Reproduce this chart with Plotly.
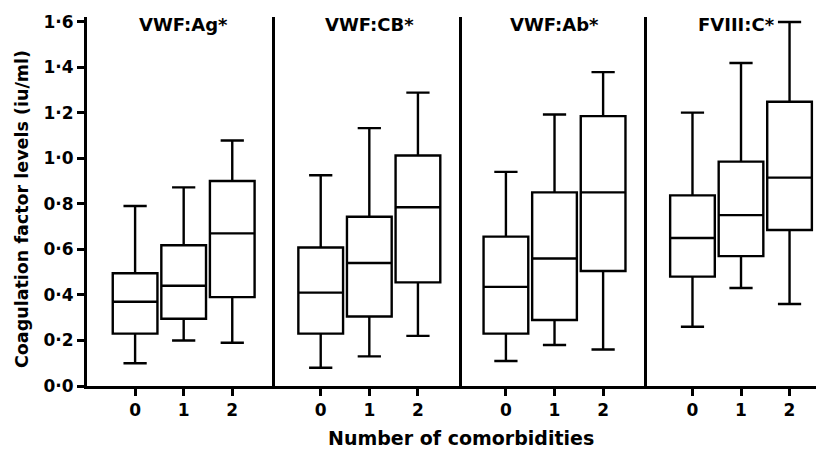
import plotly.graph_objects as go

panels = ["VWF:Ag*", "VWF:CB*", "VWF:Ab*", "FVIII:C*"]
groups = [0, 1, 2]

low = [[0.10, 0.20, 0.19], [0.08, 0.13, 0.22], [0.11, 0.18, 0.16], [0.26, 0.43, 0.36]]
q1 = [[0.23, 0.295, 0.39], [0.23, 0.305, 0.455], [0.23, 0.29, 0.505], [0.48, 0.57, 0.685]]
med = [[0.37, 0.44, 0.67], [0.41, 0.54, 0.785], [0.435, 0.56, 0.85], [0.65, 0.75, 0.915]]
q3 = [[0.495, 0.618, 0.90], [0.608, 0.743, 1.012], [0.656, 0.85, 1.185], [0.837, 0.985, 1.248]]
high = [[0.79, 0.872, 1.078], [0.925, 1.132, 1.288], [0.94, 1.192, 1.378], [1.20, 1.418, 1.598]]

yticks = [0, 0.2, 0.4, 0.6, 0.8, 1.0, 1.2, 1.4, 1.6]
yticktext = ["0·0", "0·2", "0·4", "0·6", "0·8", "1·0", "1·2", "1·4", "1·6"]

FONT = "DejaVu Sans"
domains = [(0.0, 0.2551), (0.2551, 0.5084), (0.5084, 0.7603), (0.7603, 1.0)]
xranges = [(-0.99, 2.88), (-0.94, 2.90), (-0.91, 2.91), (-0.93, 2.71)]

fig = go.Figure()
for i, name in enumerate(panels):
    sfx = "" if i == 0 else str(i + 1)
    fig.add_trace(go.Box(
        x=groups, q1=q1[i], median=med[i], q3=q3[i],
        lowerfence=low[i], upperfence=high[i],
        width=0.92, whiskerwidth=0.52,
        fillcolor="white", line=dict(color="black", width=2.4),
        boxpoints=False, showlegend=False, hoverinfo="skip",
        xaxis="x" + sfx, yaxis="y" + sfx,
    ))
    xa = dict(
        domain=list(domains[i]), range=list(xranges[i]), anchor="y" + sfx,
        tickvals=groups, ticktext=[str(g) for g in groups],
        ticks="outside", ticklen=7, tickwidth=3, tickcolor="black",
        showline=True, linewidth=3, linecolor="black",
        showgrid=False, zeroline=False, automargin=False,
        tickfont=dict(family=FONT, size=17, color="black", weight="bold"),
    )
    ya = dict(
        range=[0, 1.62], anchor="x" + sfx,
        showline=True, linewidth=3, linecolor="black",
        showgrid=False, zeroline=False, automargin=False,
    )
    if i == 0:
        ya.update(
            tickvals=yticks, ticktext=yticktext, ticks="outside", ticklen=7,
            tickwidth=3, tickcolor="black",
            tickfont=dict(family=FONT, size=17, color="black", weight="bold"),
        )
    else:
        ya.update(matches="y", showticklabels=False, ticks="")
    fig.layout["xaxis" + sfx] = xa
    fig.layout["yaxis" + sfx] = ya
    fig.add_annotation(
        x=1 if i < 3 else 0.9, y=1.585, xref="x" + sfx, yref="y" + sfx,
        text=name, showarrow=False, xanchor="center", yanchor="middle",
        font=dict(family=FONT, size=18, color="black", weight="bold"),
    )

fig.add_annotation(
    x=0.508, y=-0.141, xref="paper", yref="paper", text="Number of comorbidities",
    showarrow=False, xanchor="center", yanchor="middle",
    font=dict(family=FONT, size=19, color="black", weight="bold"),
)
fig.add_annotation(
    x=-0.088, y=0.48, xref="paper", yref="paper", text="Coagulation factor levels (iu/ml)",
    showarrow=False, xanchor="center", yanchor="middle", textangle=-90,
    font=dict(family=FONT, size=17.5, color="black", weight="bold"),
)

# the page body adds an 8px margin, so the figure is 8px smaller than the window
fig.update_layout(
    width=816, height=444,
    margin=dict(l=79, r=0, t=9, b=66),
    paper_bgcolor="white", plot_bgcolor="white",
)
fig.write_html("out.html")
